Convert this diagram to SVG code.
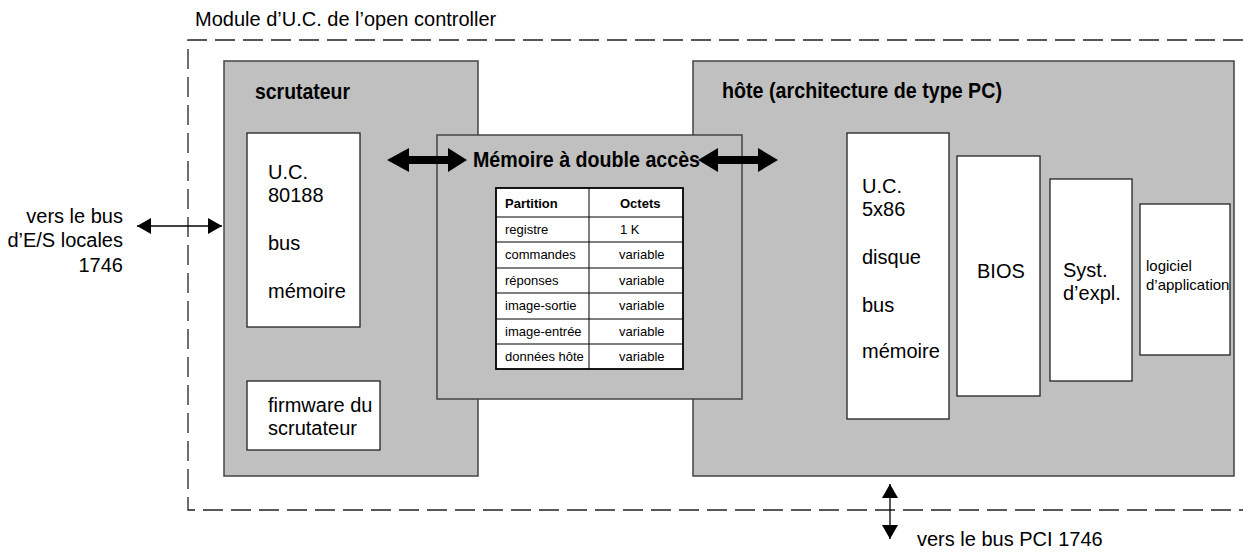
<svg xmlns="http://www.w3.org/2000/svg" width="1243" height="552" viewBox="0 0 1243 552">
<style>
text{font-family:"Liberation Sans",Arial,sans-serif;fill:#000}
.t18{font-size:20px}
.t14{font-size:15px}
.t13{font-size:13px}
.b13{font-size:13px;font-weight:bold}
.hd{font-size:22px;font-weight:bold}
.gray{fill:#c0c0c0;stroke:#444;stroke-width:1.5}
.white{fill:#fff;stroke:#222;stroke-width:1.3}
.dash{fill:none;stroke:#222;stroke-width:1.3;stroke-dasharray:20 8}
.thin{stroke:#000;stroke-width:1.3;fill:none}
</style>
<defs>
<marker id="ah" viewBox="0 0 14 16" refX="14" refY="8" markerWidth="14" markerHeight="16" markerUnits="userSpaceOnUse" orient="auto-start-reverse">
<path d="M0,0 L14,8 L0,16 Z" fill="#000"/>
</marker>
</defs>
<rect width="1243" height="552" fill="#fff"/>

<g id="module">
<text class="t18" x="195" y="26">Module d’U.C. de l’open controller</text>
<path class="dash" d="M1243,40 H188 V510 H1243"/>
</g>

<g id="scrutateur">
<rect class="gray" x="224" y="61" width="254" height="415"/>
<text class="hd" x="255" y="99" textLength="95" lengthAdjust="spacingAndGlyphs">scrutateur</text>
</g>
<g id="uc80188">
<rect class="white" x="247" y="133" width="113" height="194"/>
<text class="t18" x="268" y="179">U.C.</text>
<text class="t18" x="268" y="202">80188</text>
<text class="t18" x="268" y="250">bus</text>
<text class="t18" x="268" y="298">mémoire</text>
</g>
<g id="firmware">
<rect class="white" x="247" y="381" width="133" height="69"/>
<text class="t18" x="268" y="412">firmware du</text>
<text class="t18" x="268" y="435">scrutateur</text>
</g>

<g id="hote">
<rect class="gray" x="693" y="61" width="541" height="415"/>
<text class="hd" x="722" y="98" textLength="280" lengthAdjust="spacingAndGlyphs">hôte (architecture de type PC)</text>
</g>
<g id="uc5x86">
<rect class="white" x="847" y="133" width="102" height="286"/>
<text class="t18" x="862" y="193">U.C.</text>
<text class="t18" x="862" y="216">5x86</text>
<text class="t18" x="862" y="264">disque</text>
<text class="t18" x="862" y="312">bus</text>
<text class="t18" x="862" y="358">mémoire</text>
</g>
<g id="bios">
<rect class="white" x="957" y="156" width="83" height="240"/>
<text class="t18" x="977" y="278">BIOS</text>
</g>
<g id="syst">
<rect class="white" x="1050" y="179" width="82" height="202"/>
<text class="t18" x="1063" y="277">Syst.</text>
<text class="t18" x="1063" y="300">d’expl.</text>
</g>
<g id="logiciel">
<rect class="white" x="1140" y="204" width="90" height="151"/>
<text class="t14" x="1146" y="271">logiciel</text>
<text class="t14" x="1146" y="290">d’application</text>
</g>

<g id="memoire">
<rect class="gray" x="437" y="135" width="305" height="264"/>
<text class="hd" x="473" y="167" font-size="23" textLength="227" lengthAdjust="spacingAndGlyphs">Mémoire à double accès</text>
</g>
<g id="table">
<rect x="496" y="188" width="187" height="181" fill="#fff" stroke="#000" stroke-width="1.8"/>
<g stroke="#000" stroke-width="1">
<line x1="589" y1="188" x2="589" y2="369"/>
<line x1="496" y1="217" x2="683" y2="217"/>
<line x1="496" y1="242" x2="683" y2="242"/>
<line x1="496" y1="268" x2="683" y2="268"/>
<line x1="496" y1="293" x2="683" y2="293"/>
<line x1="496" y1="319" x2="683" y2="319"/>
<line x1="496" y1="344" x2="683" y2="344"/>
</g>
<text class="b13" x="505" y="208">Partition</text>
<text class="b13" x="620" y="208">Octets</text>
<text class="t13" x="505" y="234">registre</text>
<text class="t13" x="620" y="234">1 K</text>
<text class="t13" x="505" y="259">commandes</text>
<text class="t13" x="619" y="259">variable</text>
<text class="t13" x="505" y="285">réponses</text>
<text class="t13" x="619" y="285">variable</text>
<text class="t13" x="505" y="310">image-sortie</text>
<text class="t13" x="619" y="310">variable</text>
<text class="t13" x="505" y="336">image-entrée</text>
<text class="t13" x="619" y="336">variable</text>
<text class="t13" x="505" y="361">données hôte</text>
<text class="t13" x="619" y="361">variable</text>
</g>

<g id="connectors">
<path d="M387,160 L409,148 L409,156 L448,156 L448,148 L467,160 L448,172 L448,164 L409,164 L409,172 Z" fill="#000"/>
<path d="M698,160 L718,148 L718,156 L758,156 L758,148 L778,160 L758,172 L758,164 L718,164 L718,172 Z" fill="#000"/>
<line class="thin" x1="137" y1="226" x2="222" y2="226" marker-start="url(#ah)" marker-end="url(#ah)"/>
<line class="thin" x1="890" y1="484" x2="890" y2="539" marker-start="url(#ah)" marker-end="url(#ah)"/>
</g>

<g id="labels">
<text class="t18" x="123" y="223" text-anchor="end">vers le bus</text>
<text class="t18" x="123" y="247" text-anchor="end">d’E/S locales</text>
<text class="t18" x="123" y="272" text-anchor="end">1746</text>
<text class="t18" x="917" y="546">vers le bus PCI 1746</text>
</g>
</svg>
